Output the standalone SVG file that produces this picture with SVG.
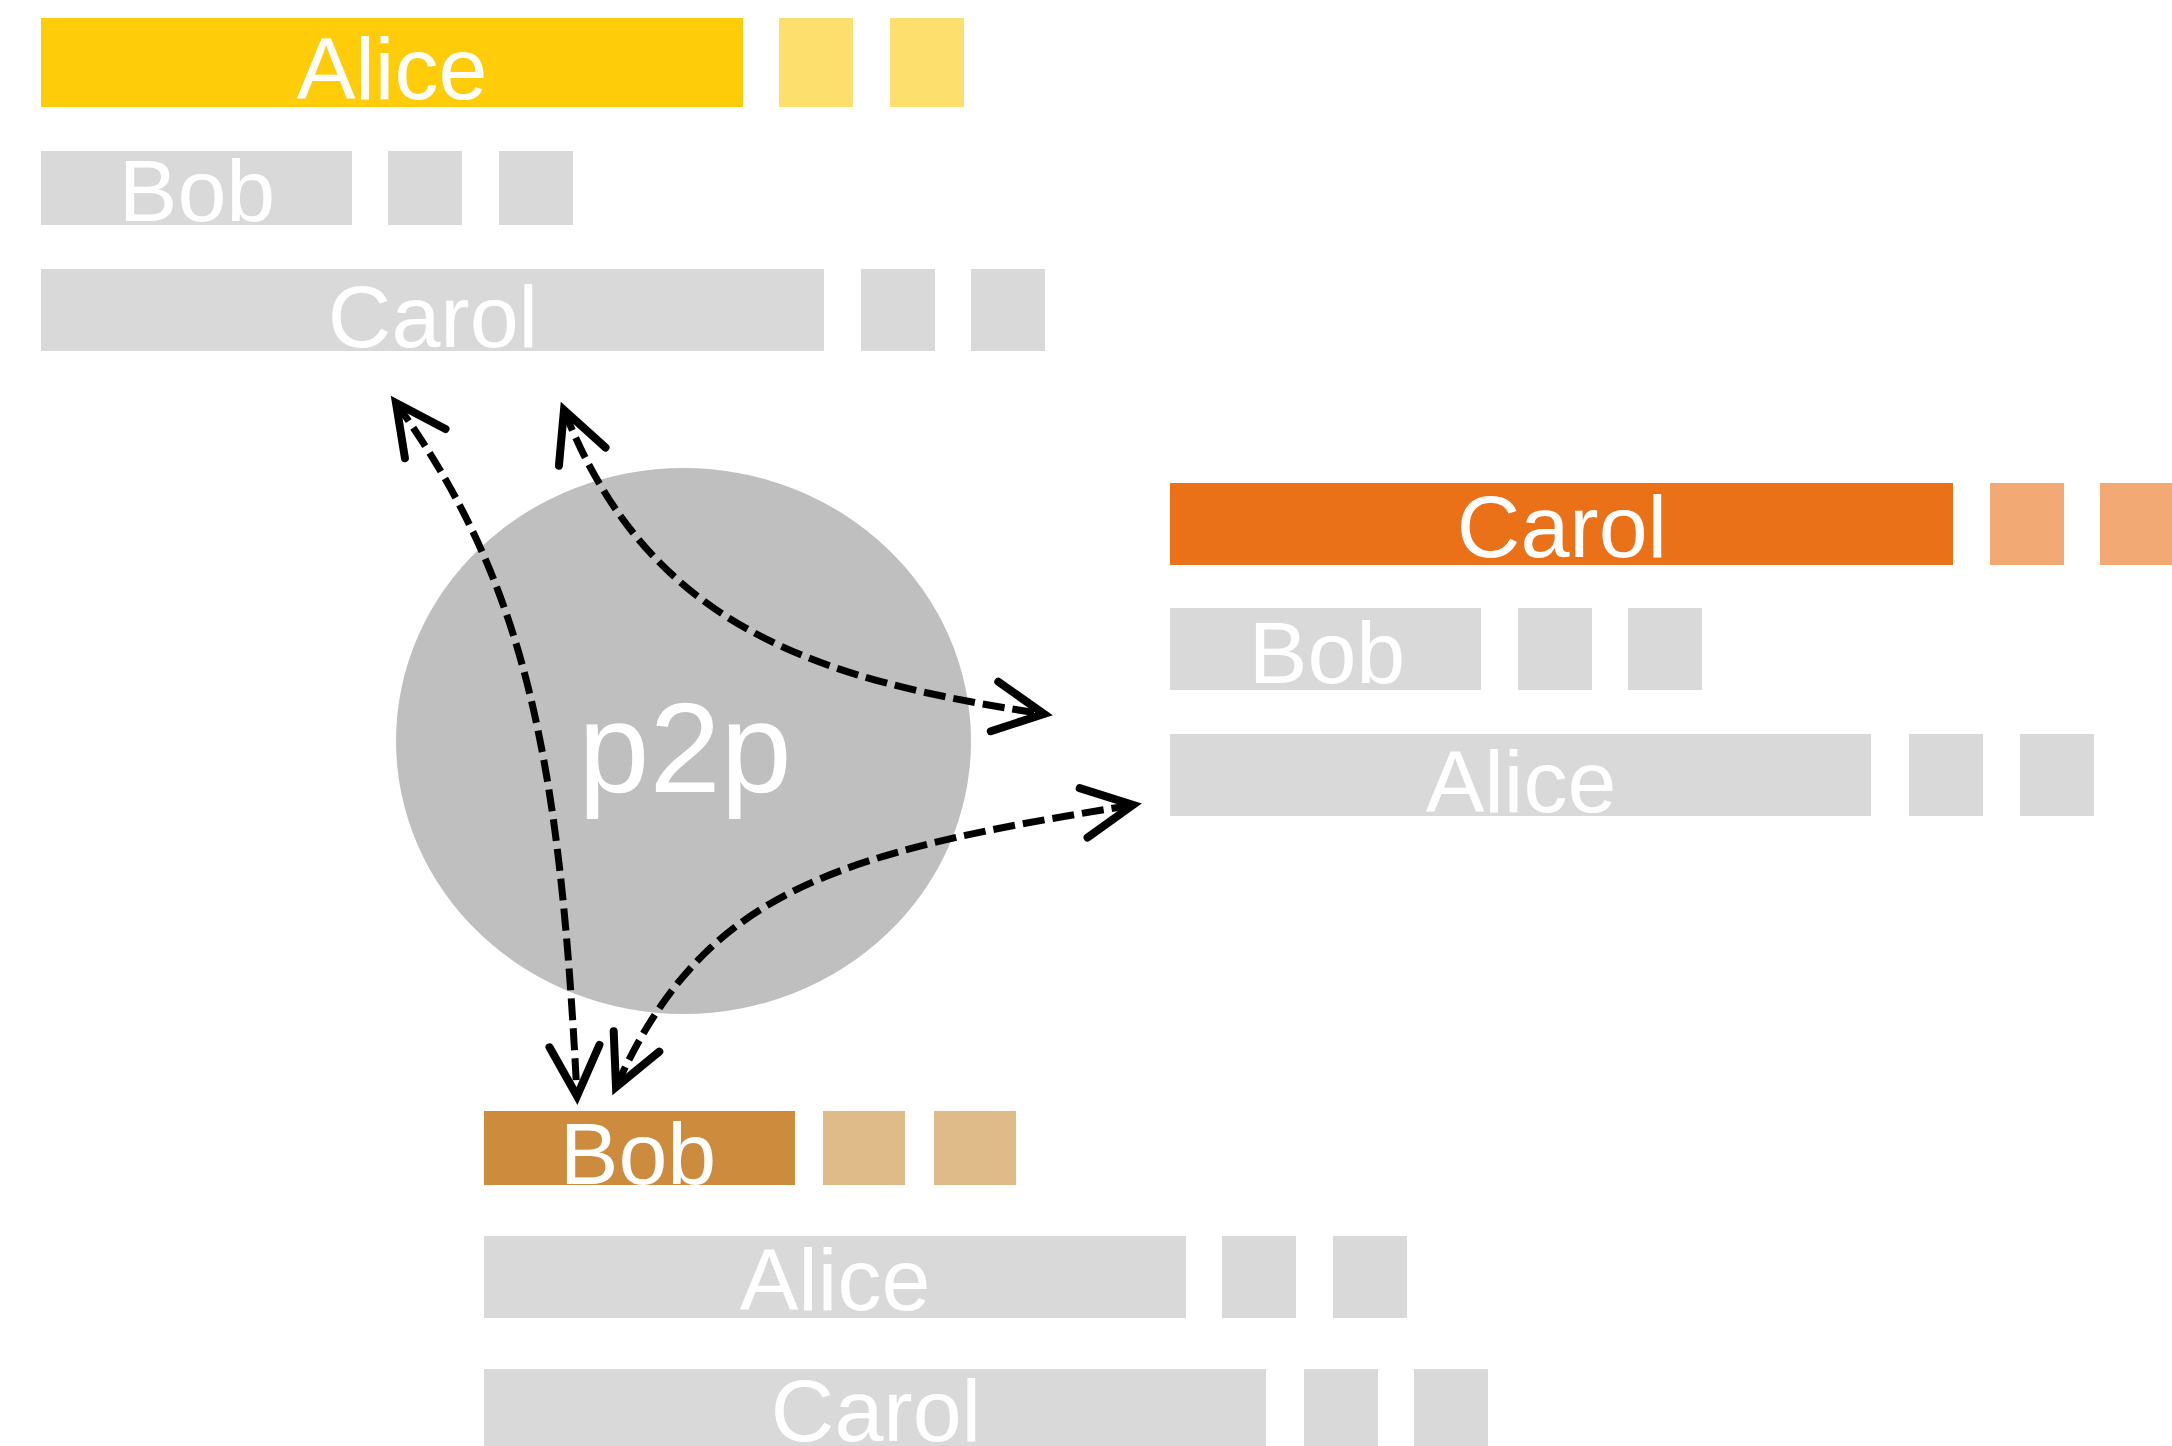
<svg xmlns="http://www.w3.org/2000/svg" width="2172" height="1446" viewBox="0 0 2172 1446">
<style>
text{font-family:"Liberation Sans",Arial,sans-serif;fill:#fff;text-anchor:middle;font-size:88px}
.g{fill:#D9D9D9}
.y{fill:#FFCC0A}.yl{fill:#FDDF6D}
.o{fill:#EB7118}.ol{fill:#F3A973}
.b{fill:#CD8B3E}.bl{fill:#E0BB8A}
.c{fill:none;stroke:#000;stroke-width:7;stroke-dasharray:22 8;marker-start:url(#ah);marker-end:url(#ah)}
</style>
<defs>
<marker id="ah" markerUnits="userSpaceOnUse" orient="auto-start-reverse" overflow="visible" refX="0" refY="0" markerWidth="10" markerHeight="10">
<path d="M -50 -25 L 0 0 L -50 25" fill="none" stroke="#000" stroke-width="8" stroke-linecap="round" stroke-linejoin="miter"/>
</marker>
</defs>
<rect width="2172" height="1446" fill="#fff"/>
<g id="circle-p2p">
<ellipse cx="683.5" cy="741" rx="287.5" ry="273" fill="#BFBFBF"/>
<text x="685" y="792" style="font-size:128px">p2p</text>
</g>
<g id="a1-alice">
<rect class="y" x="41" y="18" width="702" height="89"/>
<rect class="yl" x="779" y="18" width="74" height="89"/>
<rect class="yl" x="890" y="18" width="74" height="89"/>
<text x="392" y="99">Alice</text>
</g>
<g id="a1-bob">
<rect class="g" x="41" y="151" width="311" height="74"/>
<rect class="g" x="388" y="151" width="74" height="74"/>
<rect class="g" x="499" y="151" width="74" height="74"/>
<text x="197" y="221">Bob</text>
</g>
<g id="a1-carol">
<rect class="g" x="41" y="269" width="783" height="82"/>
<rect class="g" x="861" y="269" width="74" height="82"/>
<rect class="g" x="971" y="269" width="74" height="82"/>
<text x="433" y="347">Carol</text>
</g>
<g id="c-carol">
<rect class="o" x="1170" y="483" width="783" height="82"/>
<rect class="ol" x="1990" y="483" width="74" height="82"/>
<rect class="ol" x="2100" y="483" width="74" height="82"/>
<text x="1562" y="557">Carol</text>
</g>
<g id="c-bob">
<rect class="g" x="1170" y="608" width="311" height="82"/>
<rect class="g" x="1518" y="608" width="74" height="82"/>
<rect class="g" x="1628" y="608" width="74" height="82"/>
<text x="1327" y="683">Bob</text>
</g>
<g id="c-alice">
<rect class="g" x="1170" y="734" width="701" height="82"/>
<rect class="g" x="1909" y="734" width="74" height="82"/>
<rect class="g" x="2020" y="734" width="74" height="82"/>
<text x="1521" y="812">Alice</text>
</g>
<g id="b-bob">
<rect class="b" x="484" y="1111" width="311" height="74"/>
<rect class="bl" x="823" y="1111" width="82" height="74"/>
<rect class="bl" x="934" y="1111" width="82" height="74"/>
<text x="638" y="1184">Bob</text>
</g>
<g id="b-alice">
<rect class="g" x="484" y="1236" width="702" height="82"/>
<rect class="g" x="1222" y="1236" width="74" height="82"/>
<rect class="g" x="1333" y="1236" width="74" height="82"/>
<text x="835" y="1310">Alice</text>
</g>
<g id="b-carol">
<rect class="g" x="484" y="1369" width="782" height="82"/>
<rect class="g" x="1304" y="1369" width="74" height="82"/>
<rect class="g" x="1414" y="1369" width="74" height="82"/>
<text x="876" y="1441">Carol</text>
</g>
<g id="connectors">
<path class="c" d="M 396 403 C 527 585, 560 760, 577 1096"/>
<path class="c" d="M 564 410 C 650 630, 820 680, 1044 714"/>
<path class="c" d="M 616 1087 C 704 891, 832 853, 1133 805"/>
</g>
</svg>
